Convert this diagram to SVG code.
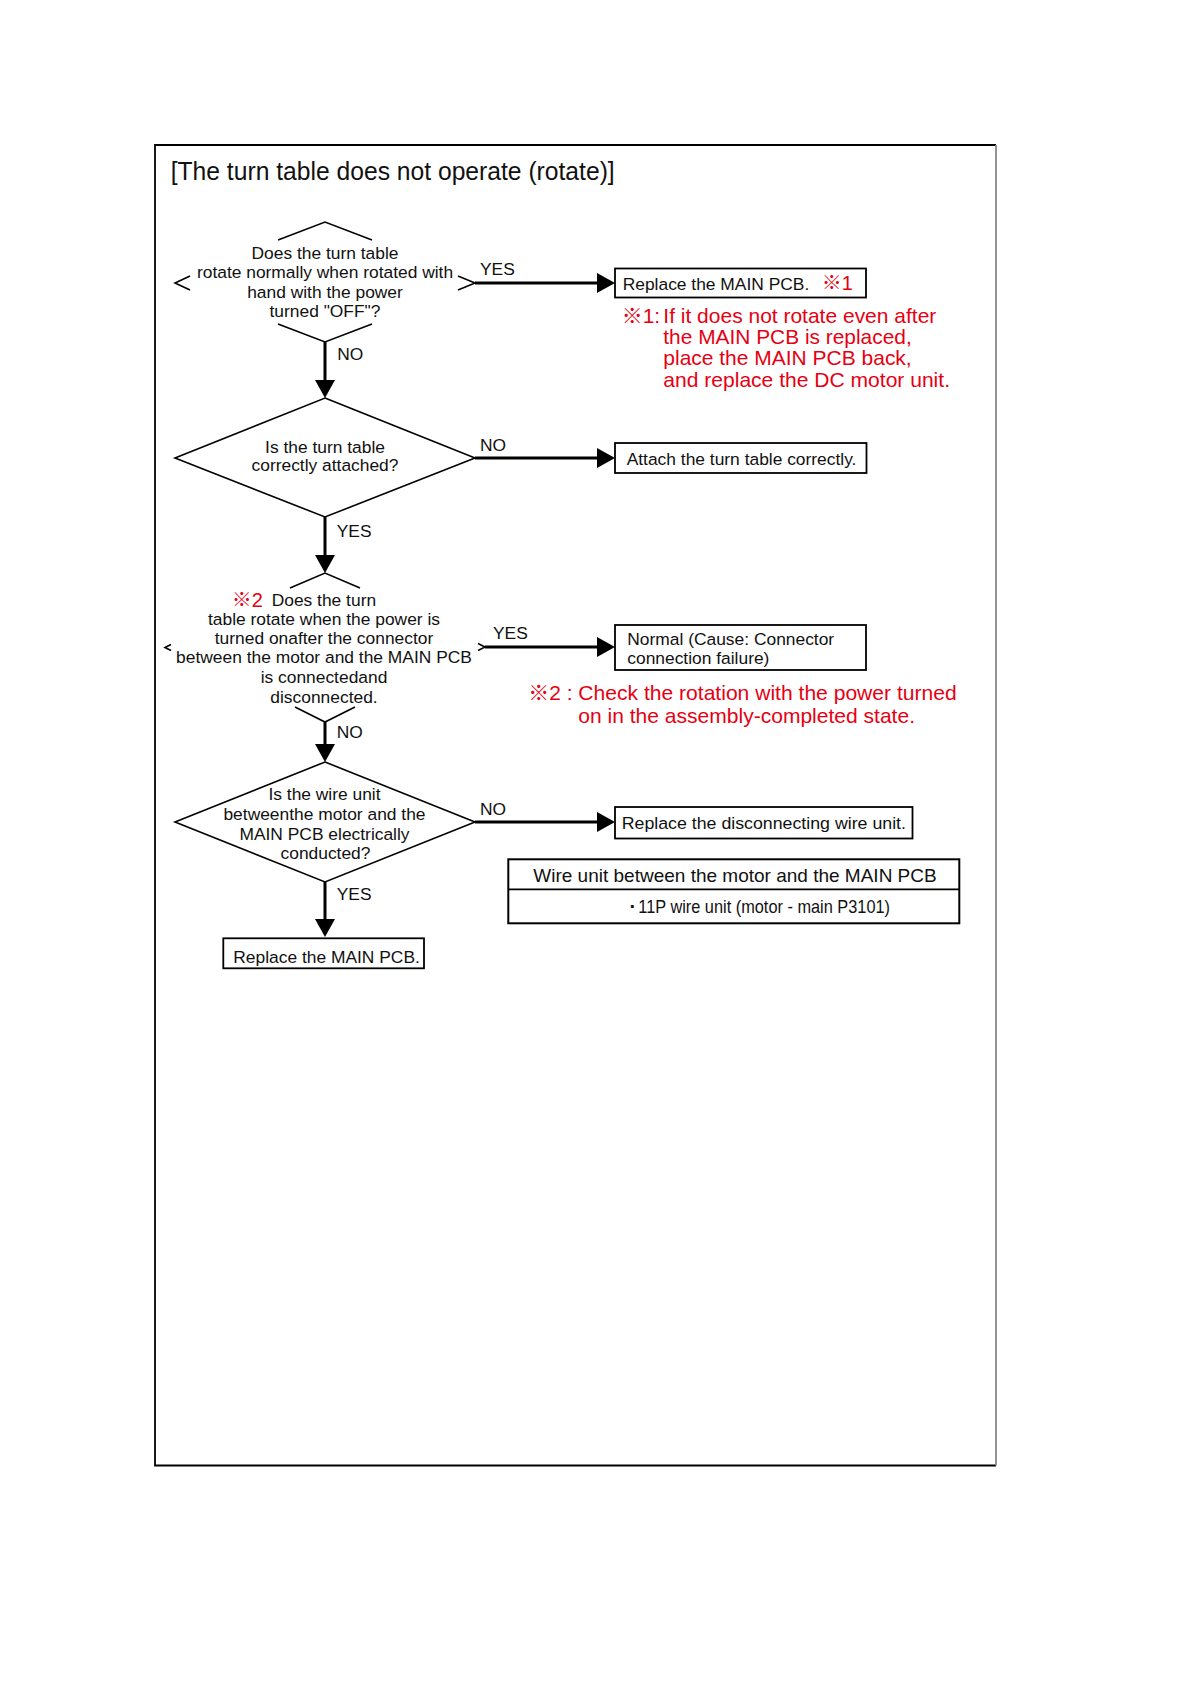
<svg xmlns="http://www.w3.org/2000/svg" width="1190" height="1684" viewBox="0 0 1190 1684">
<style>
text { font-family: "Liberation Sans", "Noto Sans CJK JP", sans-serif; fill: #111; }
.t { font-size: 17.4px; }
.c { text-anchor: middle; }
.lbl { font-size: 17.4px; }
.red { fill: #e60012; font-size: 21px; }
.redm { fill: #e60012; font-size: 20px; }
.km { font-weight: bold; }
.shape { fill: none; stroke: #000; stroke-width: 1.6; }
.box { fill: #fff; stroke: #000; stroke-width: 1.8; }
.conn line { stroke: #000; stroke-width: 3; }
</style>
<defs>
<marker id="ah" markerUnits="userSpaceOnUse" viewBox="0 0 18 20" markerWidth="18" markerHeight="20" refX="0" refY="10" orient="auto">
<path d="M0,0 L18,10 L0,20 Z" fill="#000"/>
</marker>
</defs>
<rect x="0" y="0" width="1190" height="1684" fill="#fff"/>
<g id="frame">
<path d="M996,145 L155,145 L155,1465.5 L996,1465.5" fill="none" stroke="#000" stroke-width="1.8"/>
<line x1="996" y1="145" x2="996" y2="1465.5" stroke="#888" stroke-width="1.8"/>
<text x="170.7" y="180" font-size="26" textLength="444" lengthAdjust="spacingAndGlyphs">[The turn table does not operate (rotate)]</text>
</g>
<g class="conn">
<line x1="475" y1="283" x2="597" y2="283" marker-end="url(#ah)"/>
<line x1="325" y1="342" x2="325" y2="380" marker-end="url(#ah)"/>
<line x1="475" y1="458" x2="597" y2="458" marker-end="url(#ah)"/>
<line x1="325" y1="517" x2="325" y2="555" marker-end="url(#ah)"/>
<line x1="485" y1="647" x2="597" y2="647" marker-end="url(#ah)"/>
<line x1="325" y1="722" x2="325" y2="744" marker-end="url(#ah)"/>
<line x1="475" y1="822" x2="597" y2="822" marker-end="url(#ah)"/>
<line x1="325" y1="882" x2="325" y2="919" marker-end="url(#ah)"/>
</g>
<g id="labels">
<text class="lbl" x="480" y="275">YES</text>
<text class="lbl" x="337.3" y="360">NO</text>
<text class="lbl" x="480" y="451">NO</text>
<text class="lbl" x="336.7" y="537">YES</text>
<text class="lbl" x="493" y="638.5">YES</text>
<text class="lbl" x="336.7" y="738">NO</text>
<text class="lbl" x="480" y="815">NO</text>
<text class="lbl" x="336.7" y="900">YES</text>
</g>
<g id="d1">
<polyline class="shape" points="278,240 325,222 372,240"/>
<polyline class="shape" points="278,324 325,342 372,324"/>
<polyline class="shape" points="190,276 175,283 190,290"/>
<polyline class="shape" points="458,276 475,283 458,290"/>
<text class="t c" x="325" y="259.3">Does the turn table</text>
<text class="t c" x="325" y="278.3">rotate normally when rotated with</text>
<text class="t c" x="325" y="297.7">hand with the power</text>
<text class="t c" x="325" y="316.7">turned "OFF"?</text>
</g>
<g id="b1">
<rect class="box" x="615" y="268.5" width="251" height="29"/>
<text class="t" x="622.7" y="289.5">Replace the MAIN PCB.</text>
<text class="redm" x="821.7" y="290"><tspan class="km">※</tspan>1</text>
</g>
<g id="note1">
<text class="red" x="621.7" y="323"><tspan class="km">※</tspan>1:</text>
<text class="red" x="663.3" y="323" textLength="273" lengthAdjust="spacingAndGlyphs">If it does not rotate even after</text>
<text class="red" x="663.3" y="344" textLength="248.4" lengthAdjust="spacingAndGlyphs">the MAIN PCB is replaced,</text>
<text class="red" x="663.3" y="365" textLength="248.4" lengthAdjust="spacingAndGlyphs">place the MAIN PCB back,</text>
<text class="red" x="663.3" y="386.5" textLength="286.7" lengthAdjust="spacingAndGlyphs">and replace the DC motor unit.</text>
</g>
<g id="d2">
<polygon class="shape" points="325,398 475,458 325,517 175,458"/>
<text class="t c" x="325" y="452.5">Is the turn table</text>
<text class="t c" x="325" y="471">correctly attached?</text>
</g>
<g id="b2">
<rect class="box" x="615" y="443" width="251.5" height="30"/>
<text class="t" x="626.7" y="465">Attach the turn table correctly.</text>
</g>
<g id="d3">
<polyline class="shape" points="290,588 325,573 360,588"/>
<polyline class="shape" points="295,707 325,722 355,707"/>
<polyline class="shape" points="171,644.5 165,647.5 171,650.5"/>
<polyline class="shape" points="478,643.5 485,647 478,650.5"/>
<text class="redm" x="231.7" y="606.5"><tspan class="km">※</tspan>2</text>
<text class="t" x="271.7" y="606">Does the turn</text>
<text class="t c" x="324" y="625">table rotate when the power is</text>
<text class="t c" x="324" y="644.3">turned onafter the connector</text>
<text class="t c" x="324" y="663.3">between the motor and the MAIN PCB</text>
<text class="t c" x="324" y="682.7">is connectedand</text>
<text class="t c" x="324" y="702.5">disconnected.</text>
</g>
<g id="b3">
<rect class="box" x="615" y="625" width="251" height="45"/>
<text class="t" x="627.3" y="645">Normal (Cause: Connector</text>
<text class="t" x="627.3" y="663.5">connection failure)</text>
</g>
<g id="note2">
<text class="red" x="528.3" y="700"><tspan class="km">※</tspan>2 :</text>
<text class="red" x="578.3" y="700" textLength="378.4" lengthAdjust="spacingAndGlyphs">Check the rotation with the power turned</text>
<text class="red" x="578.3" y="723.3" textLength="336.7" lengthAdjust="spacingAndGlyphs">on in the assembly-completed state.</text>
</g>
<g id="d4">
<polygon class="shape" points="325,762 475,822 325,882 175,822"/>
<text class="t c" x="324.5" y="800">Is the wire unit</text>
<text class="t c" x="324.5" y="819.5">betweenthe motor and the</text>
<text class="t c" x="324.5" y="839.5">MAIN PCB electrically</text>
<text class="t c" x="325.5" y="859">conducted?</text>
</g>
<g id="b4">
<rect class="box" x="615" y="807" width="297.5" height="31.5"/>
<text class="t" x="621.7" y="828.5" textLength="284.3" lengthAdjust="spacingAndGlyphs">Replace the disconnecting wire unit.</text>
</g>
<g id="table">
<rect x="508.3" y="859.3" width="451" height="64" fill="#fff" stroke="#000" stroke-width="2"/>
<line x1="508.3" y1="889.3" x2="959.3" y2="889.3" stroke="#000" stroke-width="1.8"/>
<text x="533.3" y="881.7" font-size="18.5" textLength="403.4" lengthAdjust="spacingAndGlyphs">Wire unit between the motor and the MAIN PCB</text>
<text x="629.5" y="913.3" font-size="20" font-weight="bold">·</text>
<text x="638.3" y="913.3" font-size="18.5" textLength="251.7" lengthAdjust="spacingAndGlyphs">11P wire unit (motor - main P3101)</text>
</g>
<g id="b5">
<rect class="box" x="223.3" y="938.3" width="200.7" height="30"/>
<text class="t" x="233.3" y="963">Replace the MAIN PCB.</text>
</g>
</svg>
